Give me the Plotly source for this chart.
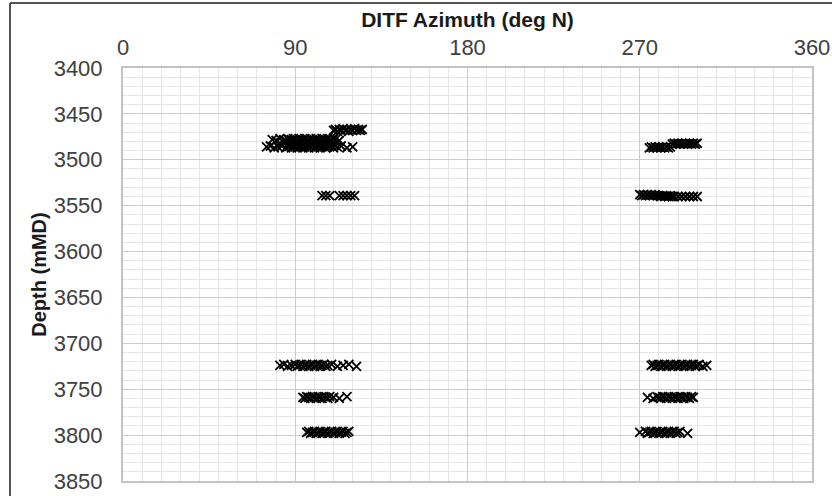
import plotly.graph_objects as go

# ---- data: DITF azimuth (deg N) and depth (mMD) per cluster ----
a_az = [110, 111, 112, 113, 114, 115, 116, 117, 118, 119, 120, 121, 122, 123, 124, 125]
a_depth = [3468, 3467, 3469, 3467, 3468, 3466, 3468, 3467, 3469, 3467, 3468, 3466, 3468, 3467, 3468, 3467]

b1_az = [78, 80, 82, 84, 85, 86, 87, 88, 89, 90, 91, 92, 93, 94, 95, 96, 97, 98, 99, 100,
         101, 102, 103, 104, 105, 106, 107, 108, 109, 110, 111, 113]
b1_depth = [3478, 3479, 3477, 3478, 3479, 3477, 3478, 3479, 3477, 3478, 3479, 3477, 3478, 3479, 3477,
            3478, 3479, 3477, 3478, 3479, 3477, 3478, 3479, 3477, 3478, 3479, 3477, 3478, 3479, 3477,
            3478, 3479]

b2_az = [82, 84, 86, 88, 90, 92, 94, 96, 98, 100, 102, 104, 106, 108, 110]
b2_depth = [3482, 3481, 3483, 3482, 3481, 3483, 3482, 3481, 3483, 3482, 3481, 3483, 3482, 3481, 3483]

b3_az = [75, 77, 79, 81, 83, 85, 86, 87, 88, 89, 90, 91, 92, 93, 94, 95, 96, 97, 98, 99, 100,
         101, 102, 103, 104, 105, 106, 107, 108, 110, 112, 114, 117, 120]
b3_depth = [3486, 3485, 3487, 3486, 3485, 3487, 3486, 3485, 3487, 3486, 3485, 3487, 3486, 3485, 3487,
            3486, 3485, 3487, 3486, 3485, 3487, 3486, 3485, 3487, 3486, 3485, 3487, 3486, 3485, 3487,
            3486, 3485, 3487, 3486]

c_az = [104, 106, 108, 113, 115, 117, 119, 121]
c_depth = [3539, 3539, 3539, 3539, 3539, 3539, 3539, 3539]

d1_az = [275, 276, 277, 278, 279, 280, 281, 282, 283, 284, 285, 286]
d1_depth = [3487, 3486, 3487, 3486, 3487, 3486, 3487, 3486, 3487, 3486, 3487, 3486]

d2_az = [287, 288, 289, 290, 291, 292, 293, 294, 295, 296, 297, 298, 299, 300]
d2_depth = [3483, 3482, 3483, 3482, 3483, 3482, 3483, 3482, 3483, 3482, 3483, 3482, 3483, 3482]

e_az = [270, 271, 272, 273, 274, 275, 276, 277, 278, 279, 280, 281, 282, 283, 284, 285, 286, 287,
        288, 290, 292, 294, 296, 298, 300]
e_depth = [3538, 3539, 3538, 3539, 3538, 3539, 3538, 3539, 3538, 3539, 3539, 3540, 3539, 3540, 3539,
           3540, 3539, 3540, 3540, 3540, 3540, 3540, 3540, 3540, 3540]

f_az = [82, 84, 86, 88, 90, 91, 92, 93, 94, 95, 96, 97, 98, 99, 100, 101, 102, 103, 104, 105,
        106, 107, 109, 112, 115, 118, 122]
f_depth = [3724, 3723, 3725, 3724, 3723, 3725, 3724, 3723, 3725, 3724, 3723, 3725, 3724, 3723, 3725,
           3724, 3723, 3725, 3724, 3723, 3725, 3724, 3723, 3725, 3724, 3723, 3725]

g_az = [94, 95, 96, 97, 98, 99, 100, 101, 102, 103, 104, 105, 106, 107, 108, 110, 113, 117]
g_depth = [3759, 3760, 3758, 3759, 3760, 3758, 3759, 3760, 3758, 3759, 3760, 3758, 3759, 3760, 3758,
           3759, 3760, 3758]

h_az = [96, 97, 98, 99, 100, 101, 102, 103, 104, 105, 106, 107, 108, 109, 110, 111, 112, 113, 114,
        115, 116, 117, 118]
h_depth = [3797, 3796, 3798, 3797, 3796, 3798, 3797, 3796, 3798, 3797, 3796, 3798, 3797, 3796, 3798,
           3797, 3796, 3798, 3797, 3796, 3798, 3797, 3796]

i_az = [276, 277, 278, 279, 280, 281, 282, 283, 284, 285, 286, 287, 288, 289, 290, 291, 292, 293,
        294, 295, 296, 297, 298, 299, 300, 301, 303, 305]
i_depth = [3724, 3723, 3725, 3724, 3723, 3725, 3724, 3723, 3725, 3724, 3723, 3725, 3724, 3723, 3725,
           3724, 3723, 3725, 3724, 3723, 3725, 3724, 3723, 3725, 3724, 3723, 3725, 3724]

j_az = [274, 277, 279, 280, 281, 282, 283, 284, 285, 286, 287, 288, 289, 290, 291, 292, 293, 294,
        295, 296, 297, 298]
j_depth = [3759, 3760, 3758, 3759, 3760, 3758, 3759, 3760, 3758, 3759, 3760, 3758, 3759, 3760, 3758,
           3759, 3760, 3758, 3759, 3760, 3758, 3759]

k_az = [270, 273, 274, 275, 276, 277, 278, 279, 280, 281, 282, 283, 284, 285, 286, 287, 288, 289,
        290, 291, 295]
k_depth = [3797, 3796, 3798, 3797, 3796, 3798, 3797, 3796, 3798, 3797, 3796, 3798, 3797, 3796, 3798,
           3797, 3796, 3798, 3797, 3796, 3798]

x_ticks = [0, 90, 180, 270, 360]
x_title = "DITF Azimuth (deg N)"
y_title = "Depth (mMD)"

all_az = (a_az + b1_az + b2_az + b3_az + c_az + d1_az + d2_az + e_az
          + f_az + g_az + h_az + i_az + j_az + k_az)
all_depth = (a_depth + b1_depth + b2_depth + b3_depth + c_depth + d1_depth + d2_depth + e_depth
             + f_depth + g_depth + h_depth + i_depth + j_depth + k_depth)

FONT = "Liberation Sans, Arial, sans-serif"
TOP, BOTTOM, LEFT = 68, 15, 123
PLOT_H = 496 - TOP - BOTTOM
PLOT_W = 832 - LEFT - 20

fig = go.Figure()
fig.add_trace(go.Scatter(
    x=all_az, y=all_depth, mode="markers",
    marker=dict(symbol="x-thin-open", size=9, color="black",
                line=dict(color="black", width=1.8)),
    showlegend=False, hoverinfo="x+y",
))

fig.update_layout(
    width=832, height=496,
    margin=dict(l=LEFT, r=20, t=TOP, b=BOTTOM),
    paper_bgcolor="white", plot_bgcolor="white",
    font=dict(family=FONT, color="#404040"),
    xaxis=dict(
        side="top", range=[0, 360], tickvals=x_ticks, automargin=False,
        showgrid=True, gridcolor="#cccccc", gridwidth=1,
        minor=dict(dtick=10, tick0=0, showgrid=True, gridcolor="#e6e6e6", gridwidth=1),
        showline=True, linecolor="#c4c4c4", linewidth=2, mirror=True,
        zeroline=False, ticks="", ticklabelstandoff=2, ticklabeloverflow="allow",
        tickfont=dict(size=22, color="#404040", family=FONT),
        title=dict(text="<b>" + x_title + "</b>", standoff=2,
                   font=dict(size=21, color="#1a1a1a", family=FONT)),
    ),
    yaxis=dict(
        range=[3850, 3400], tick0=3400, dtick=50, automargin=False,
        showgrid=True, gridcolor="#cccccc", gridwidth=1,
        minor=dict(dtick=10, tick0=3400, showgrid=True, gridcolor="#e6e6e6", gridwidth=1),
        showline=True, linecolor="#c4c4c4", linewidth=2, mirror=True,
        zeroline=False, ticks="", ticklabelstandoff=14, ticklabeloverflow="allow",
        tickfont=dict(size=22, color="#404040", family=FONT),
        title=dict(text="<b>" + y_title + "</b>", standoff=2,
                   font=dict(size=20, color="#1a1a1a", family=FONT)),
    ),
    shapes=[
        dict(type="line", xref="paper", yref="paper",
             x0=(10 - LEFT) / PLOT_W, x1=(10 - LEFT) / PLOT_W,
             y0=1 + (TOP - 3) / PLOT_H, y1=-(BOTTOM + 20) / PLOT_H,
             line=dict(color="#555555", width=2)),
        dict(type="line", xref="paper", yref="paper",
             x0=(10 - LEFT) / PLOT_W, x1=(850 - LEFT) / PLOT_W,
             y0=1 + (TOP - 3) / PLOT_H, y1=1 + (TOP - 3) / PLOT_H,
             line=dict(color="#555555", width=2)),
    ],
)

fig.write_html(
    "out.html",
    config={"displayModeBar": False},
    post_script="document.body.style.margin='0px';document.body.style.overflow='hidden';",
)
